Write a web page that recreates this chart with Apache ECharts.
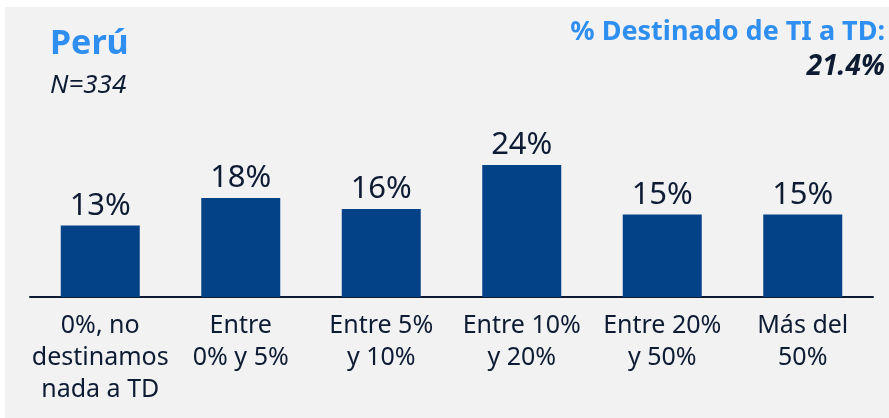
<!DOCTYPE html>
<html>
<head>
<meta charset="utf-8">
<script src="https://cdn.jsdelivr.net/npm/echarts@6/dist/echarts.min.js"></script>
<style>
  html, body { margin: 0; padding: 0; background: #ffffff; }
  #chart { width: 889px; height: 418px; }
</style>
</head>
<body>
<div id="chart"></div>
<script>
// Distribución del presupuesto de TI destinado a transformación digital
const categories = [
  '0%, no\ndestinamos\nnada a TD',
  'Entre\n0% y 5%',
  'Entre 5%\ny 10%',
  'Entre 10%\ny 20%',
  'Entre 20%\ny 50%',
  'Más del\n50%'
];
const values = [13, 18, 16, 24, 15, 15];
const titleText = 'Perú';
const sampleText = 'N=334';
const kpiLabel = '% Destinado de TI a TD:';
const kpiValue = '21.4%';

const FONT = '"Noto Sans", "Open Sans", sans-serif';
const DARK = '#0d1b33';
const BLUE = '#2f8ff0';
const BAR = '#044287';

const chart = echarts.init(document.getElementById('chart'), null, { renderer: 'canvas' });
chart.setOption({
  animation: false,
  backgroundColor: '#ffffff',
  graphic: [
    { type: 'rect', left: 5, top: 7, shape: { width: 884, height: 411 }, style: { fill: '#f2f2f2' }, z: -10 },
    { type: 'text', left: 50, top: 27, style: { text: titleText, font: 'bold 34px ' + FONT, fill: BLUE } },
    { type: 'text', left: 50, top: 73, style: { text: sampleText, font: 'italic 26px ' + FONT, fill: DARK } },
    { type: 'text', right: 4, top: 19, style: { text: kpiLabel, font: 'bold 27px ' + FONT, fill: BLUE, textAlign: 'right' } },
    { type: 'text', right: 4, top: 53, style: { text: kpiValue, font: 'italic bold 28px ' + FONT, fill: DARK, textAlign: 'right' } }
  ],
  grid: { left: 30, right: 16, top: 132, bottom: 121 },
  xAxis: {
    type: 'category',
    data: categories,
    axisTick: { show: false },
    axisLine: { lineStyle: { color: DARK, width: 2 } },
    axisLabel: {
      interval: 0,
      margin: 13,
      color: DARK,
      fontFamily: FONT,
      fontSize: 25,
      lineHeight: 32
    }
  },
  yAxis: {
    type: 'value',
    min: 0,
    max: 30,
    show: false,
    splitLine: { show: false }
  },
  series: [{
    type: 'bar',
    data: values,
    barWidth: 79,
    itemStyle: { color: BAR },
    label: {
      show: true,
      position: 'top',
      distance: 4,
      formatter: '{c}%',
      color: DARK,
      fontFamily: FONT,
      fontSize: 31
    }
  }]
});
</script>
</body>
</html>
